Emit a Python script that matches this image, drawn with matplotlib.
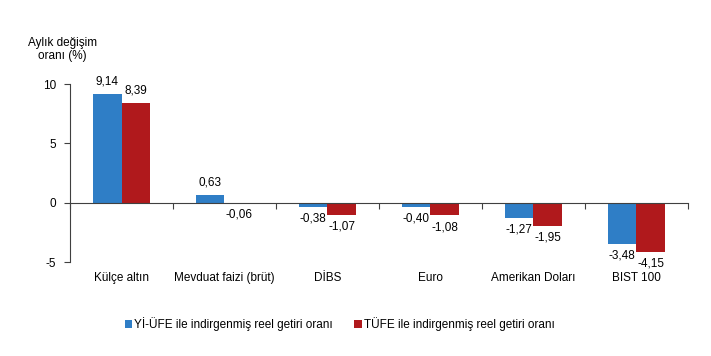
import numpy as np
import matplotlib.pyplot as plt

plt.rcParams['font.family'] = ['Liberation Sans', 'DejaVu Sans']

categories = ['Külçe altın', 'Mevduat faizi (brüt)', 'DİBS', 'Euro', 'Amerikan Doları', 'BIST 100']
yiufe = [9.14, 0.63, -0.38, -0.40, -1.27, -3.48]
tufe = [8.39, -0.06, -1.07, -1.08, -1.95, -4.15]
series_names = ['Yİ-ÜFE ile indirgenmiş reel getiri oranı', 'TÜFE ile indirgenmiş reel getiri oranı']
colors = ['#2F7EC6', '#B0191C']

fig = plt.figure(figsize=(7.11, 3.56), dpi=100)
ax = fig.add_axes([0.0985, 0.264, 0.869, 0.50])

x = np.arange(len(categories))
w = 0.28
b1 = ax.bar(x - w / 2, yiufe, w, color=colors[0], label=series_names[0])
b2 = ax.bar(x + w / 2, tufe, w, color=colors[1], label=series_names[1])


def fmt(v):
    return f'{v:.2f}'.replace('.', ',')


for bars, vals in [(b1, yiufe), (b2, tufe)]:
    for r, v in zip(bars, vals):
        cx = r.get_x() + r.get_width() / 2
        if v >= 0:
            ax.annotate(fmt(v), (cx, v), xytext=(0, 5), textcoords='offset points',
                        ha='center', va='bottom', fontsize=8.5)
        else:
            ax.annotate(fmt(v), (cx, v), xytext=(0, -4), textcoords='offset points',
                        ha='center', va='top', fontsize=8.5)

ax.set_xlim(-0.5, len(categories) - 0.5)
ax.set_ylim(-5, 10)
ax.set_yticks([-5, 0, 5, 10])
ax.set_yticklabels(['-5', '0', '5', '10'], fontsize=8.5)

ax.spines['top'].set_visible(False)
ax.spines['right'].set_visible(False)
ax.spines['bottom'].set_position(('data', 0))
ax.spines['left'].set_color('#404040')
ax.spines['bottom'].set_color('#404040')
ax.tick_params(axis='y', direction='out', length=4, color='#404040', pad=6)
ax.set_xticks(np.arange(len(categories) + 1) - 0.5)
ax.set_xticklabels([])
ax.tick_params(axis='x', direction='out', length=4, color='#404040')

for i, c in enumerate(categories):
    ax.annotate(c, (i, -5), xytext=(0, -7.5), textcoords='offset points',
                ha='center', va='top', fontsize=8.5)

fig.text(0.088, 0.86, 'Aylık değişim\noranı (%)', ha='center', va='center', fontsize=8.5,
         linespacing=1.1)

fig.legend(handles=[b1, b2], loc='center', bbox_to_anchor=(0.478, 0.09), ncol=2,
           frameon=False, fontsize=8.5, handlelength=0.6, handleheight=0.6,
           handletextpad=0.2, columnspacing=1.8)

fig.savefig('out.png', dpi=100)
